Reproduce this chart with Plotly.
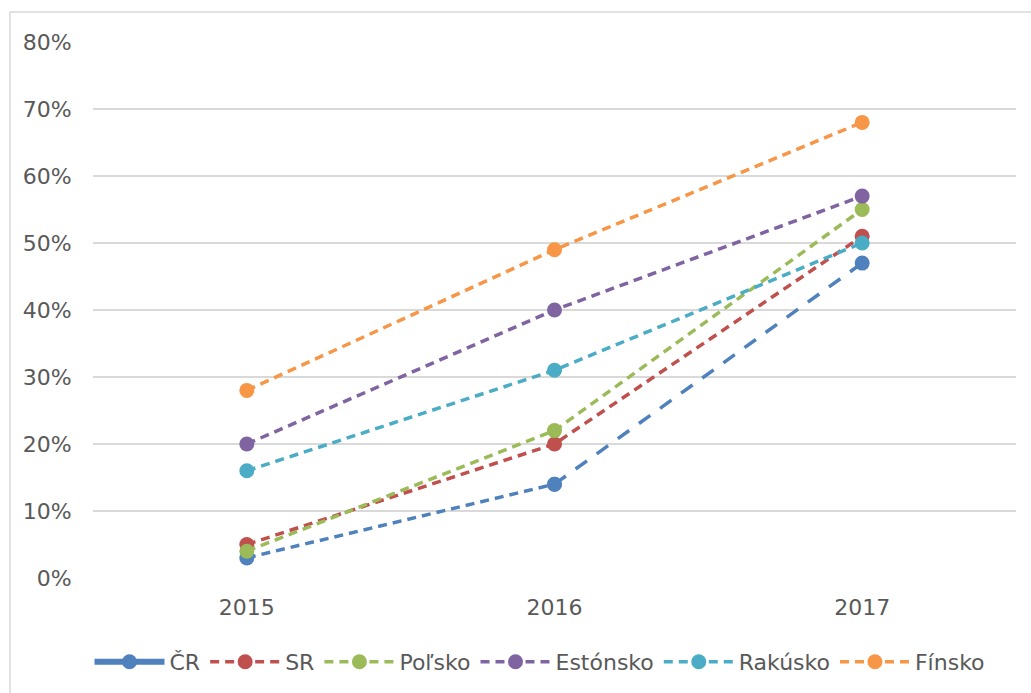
import plotly.graph_objects as go

years = ["2015", "2016", "2017"]
cr = [0.03, 0.14, 0.47]
sr = [0.05, 0.20, 0.51]
pl = [0.04, 0.22, 0.55]
ee = [0.20, 0.40, 0.57]
at = [0.16, 0.31, 0.50]
fi = [0.28, 0.49, 0.68]
y_ticks = [0, 0.1, 0.2, 0.3, 0.4, 0.5, 0.6, 0.7, 0.8]
y_ticklabels = ["0%", "10%", "20%", "30%", "40%", "50%", "60%", "70%", "80%"]

colors = {
    "ČR": "#4F81BD",
    "SR": "#C0504D",
    "Poľsko": "#9BBB59",
    "Estónsko": "#8064A2",
    "Rakúsko": "#4BACC6",
    "Fínsko": "#F79646",
}

W, H = 1031, 693
ml, mr, mt, mb = 93, 15, 42, 115
pw = W - ml - mr
ph = H - mt - mb

fig = go.Figure()

DASH = "9px,6px"
LONG = "14px,12px"
MSIZE = 15
LW = 3.5

# ČR: two segments with different dash styles, legend-only solid entry
fig.add_trace(go.Scatter(x=years[:2], y=cr[:2], mode="lines+markers", showlegend=False,
                         line=dict(color=colors["ČR"], width=LW, dash=DASH),
                         marker=dict(size=MSIZE, color=colors["ČR"])))
fig.add_trace(go.Scatter(x=years[1:], y=cr[1:], mode="lines+markers", showlegend=False,
                         line=dict(color=colors["ČR"], width=LW, dash=LONG),
                         marker=dict(size=MSIZE, color=colors["ČR"])))
fig.add_trace(go.Scatter(x=[None], y=[None], mode="lines+markers", name="ČR",
                         line=dict(color=colors["ČR"], width=6),
                         marker=dict(size=MSIZE, color=colors["ČR"])))

for name, vals in [("SR", sr), ("Poľsko", pl), ("Estónsko", ee), ("Rakúsko", at), ("Fínsko", fi)]:
    fig.add_trace(go.Scatter(x=years, y=vals, mode="lines+markers", name=name,
                             line=dict(color=colors[name], width=LW, dash=DASH),
                             marker=dict(size=MSIZE, color=colors[name])))

def px_x(px):
    return (px - ml) / pw

def px_y(py):
    return (H - mb - py) / ph

fig.add_shape(type="rect", xref="paper", yref="paper",
              x0=px_x(10), x1=px_x(1060), y0=px_y(720), y1=px_y(12),
              line=dict(color="#D9D9D9", width=1.5), fillcolor="rgba(0,0,0,0)", layer="below")

FS = 22
fig.update_layout(
    width=W, height=H,
    margin=dict(l=ml, r=mr, t=mt, b=mb, autoexpand=False),
    paper_bgcolor="white", plot_bgcolor="white",
    font=dict(family="DejaVu Sans", size=FS, color="#595959"),
    xaxis=dict(type="category", range=[-0.5, 2.5], showgrid=False, zeroline=False,
               showline=False, ticks="outside", ticklen=10, tickcolor="rgba(0,0,0,0)",
               tickfont=dict(size=FS, color="#595959"), automargin=False),
    yaxis=dict(range=[0, 0.8], tickvals=y_ticks, ticktext=y_ticklabels,
               showgrid=True, gridcolor="#D9D9D9", gridwidth=1.5, zeroline=False,
               showline=False, ticks="outside", ticklen=16, tickcolor="rgba(0,0,0,0)",
               tickfont=dict(size=FS, color="#595959"), automargin=False),
    legend=dict(orientation="h", x=px_x(540), xanchor="center", y=px_y(662), yanchor="middle",
                font=dict(size=FS, color="#595959"), itemwidth=70, tracegroupgap=0),
    showlegend=True,
)

fig.write_html("out.html")
